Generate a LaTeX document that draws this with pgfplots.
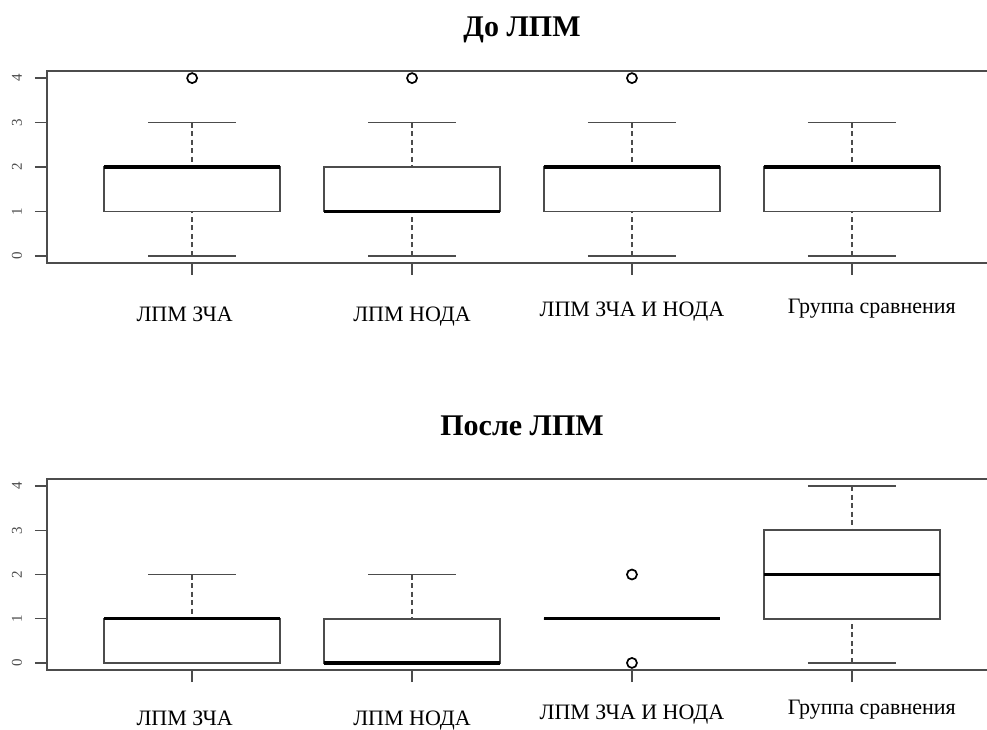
\documentclass[border=0pt]{standalone}
\usepackage{pgfplots}
\pgfplotsset{compat=1.18}
\usepgfplotslibrary{statistics}
\usepackage{fontspec}
\setmainfont{Liberation Serif}

\definecolor{rgray}{gray}{0.3}

\tikzset{
  rwhisk/.style={rgray, line width=1.6pt, dash pattern=on 5pt off 3.5pt},
  rcap/.style={rgray, line width=1.4pt},
}

\pgfplotsset{
  rbox/.style={
    scale only axis, width=950pt,
    xmin=0.34, xmax=4.66, ymin=-0.16, ymax=4.16,
    xtick={1,2,3,4}, ytick={0,1,2,3,4},
    tick align=outside, major tick length=12pt,
    xtick pos=left, ytick pos=left,
    axis line style={rgray, line width=1.5pt},
    every tick/.style={rgray, line width=1.4pt},
    /pgf/number format/assume math mode=true,
    yticklabel style={rotate=90, anchor=base, font=\fontsize{15}{15}\selectfont, text=rgray},
    yticklabel shift=13pt,
    xticklabel style={anchor=base, font=\fontsize{22}{22}\selectfont},
    boxplot/draw direction=y,
    boxplot/box extend=0.8,
    boxplot/whisker extend=0.4,
    boxplot/every box/.style={draw=rgray, fill=white, line width=1.6pt},
    boxplot/every median/.style={black, line width=3.4pt},
    boxplot/draw/lower whisker/.code={%
      \draw[rwhisk] (boxplot box cs:\pgfplotsboxplotvalue{lower whisker},0.5) -- (boxplot box cs:\pgfplotsboxplotvalue{lower quartile},0.5);
      \draw[rcap] (boxplot whisker cs:\pgfplotsboxplotvalue{lower whisker},0) -- (boxplot whisker cs:\pgfplotsboxplotvalue{lower whisker},1);
    },
    boxplot/draw/upper whisker/.code={%
      \draw[rwhisk] (boxplot box cs:\pgfplotsboxplotvalue{upper whisker},0.5) -- (boxplot box cs:\pgfplotsboxplotvalue{upper quartile},0.5);
      \draw[rcap] (boxplot whisker cs:\pgfplotsboxplotvalue{upper whisker},0) -- (boxplot whisker cs:\pgfplotsboxplotvalue{upper whisker},1);
    },
  },
  rplot/.style={mark=o, mark size=5pt, mark options={black, line width=1.7pt, solid}},
}

\begin{document}
\begin{tikzpicture}
\useasboundingbox (0,0) rectangle (987pt,729pt);
\clip (0,0) rectangle (987pt,729pt);

% ---------- top panel ----------
\begin{axis}[rbox, height=192pt, at={(47pt,466pt)}, anchor=south west,
  every axis title/.style={at={(0.5,1)}, anchor=base, yshift=34pt, font=\bfseries\fontsize{30}{30}\selectfont},
  title={До ЛПМ},
  xticklabel shift=46pt,
  xticklabels={\hspace*{-15pt}\raisebox{0pt}{ЛПМ ЗЧА},
               \raisebox{-1pt}{ЛПМ НОДА},
               \raisebox{5pt}{ЛПМ ЗЧА И НОДА},
               \hspace*{40pt}\raisebox{8pt}{Группа сравнения}},
]
\addplot[rplot, boxplot prepared={draw position=1, lower whisker=0, lower quartile=1, median=2, upper quartile=2, upper whisker=3}] coordinates {(0,4)};
\addplot[rplot, boxplot prepared={draw position=2, lower whisker=0, lower quartile=1, median=1, upper quartile=2, upper whisker=3}] coordinates {(0,4)};
\addplot[rplot, boxplot prepared={draw position=3, lower whisker=0, lower quartile=1, median=2, upper quartile=2, upper whisker=3}] coordinates {(0,4)};
\addplot[rplot, boxplot prepared={draw position=4, lower whisker=0, lower quartile=1, median=2, upper quartile=2, upper whisker=3}] coordinates {};
\end{axis}

% ---------- bottom panel ----------
\begin{axis}[rbox, height=191pt, at={(47pt,59pt)}, anchor=south west,
  every axis title/.style={at={(0.5,1)}, anchor=base, yshift=44pt, font=\bfseries\fontsize{30}{30}\selectfont},
  title={После ЛПМ},
  xticklabel shift=43pt,
  xticklabels={\hspace*{-15pt}\raisebox{0pt}{ЛПМ ЗЧА},
               \raisebox{0pt}{ЛПМ НОДА},
               \raisebox{6pt}{ЛПМ ЗЧА И НОДА},
               \hspace*{40pt}\raisebox{11pt}{Группа сравнения}},
]
\addplot[rplot, boxplot prepared={draw position=1, lower whisker=0, lower quartile=0, median=1, upper quartile=1, upper whisker=2}] coordinates {};
\addplot[rplot, boxplot prepared={draw position=2, lower whisker=0, lower quartile=0, median=0, upper quartile=1, upper whisker=2}] coordinates {};
\addplot[rplot, boxplot prepared={draw position=3, lower whisker=1, lower quartile=1, median=1, upper quartile=1, upper whisker=1}] coordinates {(0,0) (0,2)};
\addplot[rplot, boxplot prepared={draw position=4, lower whisker=0, lower quartile=1, median=2, upper quartile=3, upper whisker=4}] coordinates {};
\end{axis}
\end{tikzpicture}
\end{document}
